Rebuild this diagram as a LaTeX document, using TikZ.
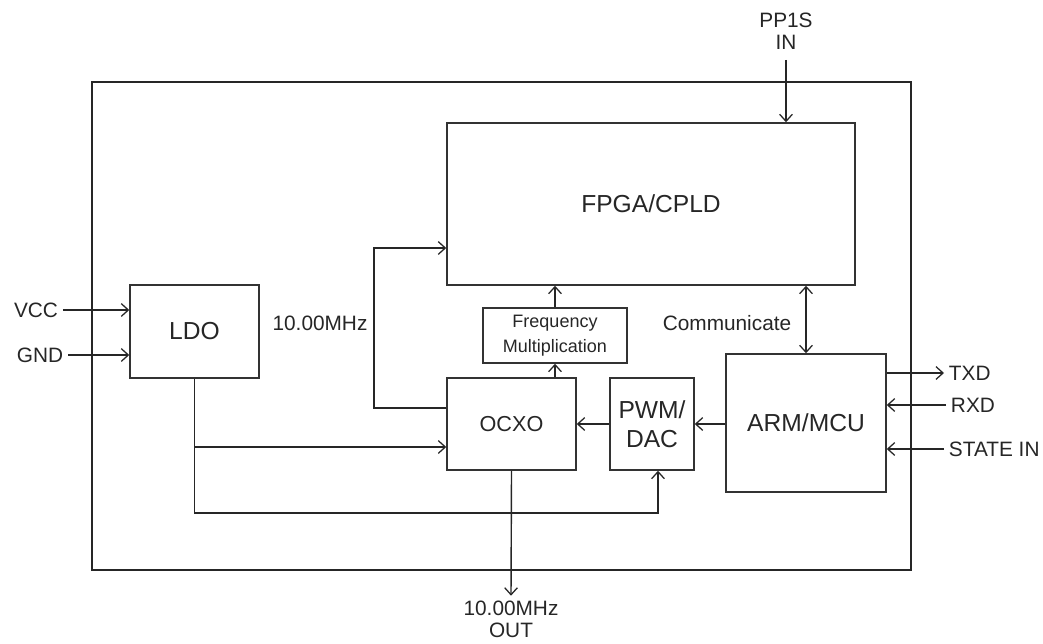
\documentclass[tikz,border=0pt]{standalone}
\usepackage{fontspec}
\setmainfont{Liberation Sans}
\usetikzlibrary{arrows.meta}

\tikzset{
  >={Straight Barb[length=5pt,width=9pt,line width=0.9pt]},
  blk/.style={draw=black!80, line width=1pt, align=center, text=black!85,
    inner sep=0pt, font=\fontsize{17.5}{20.5}\selectfont},
  lbl/.style={align=center, text=black!85, font=\fontsize{14.8}{15.6}\selectfont},
  wire/.style={draw=black!85, line width=1pt}
}

\begin{document}
\begin{tikzpicture}[x=0.025cm,y=-0.025cm]
\useasboundingbox (0,0) rectangle (1043,643);

% outer frame
\draw[black!85, line width=1pt] (92,82) rectangle (911,570);

% blocks
\node[blk, minimum width=10.2cm, minimum height=4.05cm] (fpga) at (651,204) {FPGA/CPLD};
\node[blk, minimum width=3.225cm, minimum height=2.325cm] (ldo) at (194.5,331.5) {LDO};
\node[blk, minimum width=3.6cm, minimum height=1.375cm,
  font=\fontsize{12.8}{17.7}\selectfont] (freq) at (555,335.5) {Frequency\\Multiplication};
\node[blk, minimum width=3.225cm, minimum height=2.3cm,
  font=\fontsize{15.4}{18}\selectfont] (ocxo) at (511.5,424) {OCXO};
\node[blk, minimum width=2.1cm, minimum height=2.3cm] (pwm) at (652,424) {PWM/\\DAC};
\node[blk, minimum width=4cm, minimum height=3.45cm] (arm) at (806,423) {ARM/MCU};

% labels
\node[lbl] (pps) at (786,31) {PP1S\\IN};
\node[lbl] (vcc) at (36,310) {VCC};
\node[lbl] (gnd) at (40,355) {GND};
\node[lbl] (mhz) at (320,323) {10.00MHz};
\node[lbl] (comm) at (727,323) {Communicate};
\node[lbl, anchor=west] (txd) at (944,373) {TXD};
\node[lbl, anchor=west] (rxd) at (946,405) {RXD};
\node[lbl, anchor=west] (state) at (944,449) {STATE IN};
\node[lbl] (out) at (511,619) {10.00MHz\\OUT};

\coordinate (ppsin) at (786,60);
\coordinate (lp) at (374,408);
\coordinate (lp2) at (374,248);
\coordinate (pw) at (195,447);
\coordinate (bus) at (658,513);

% connectors
\draw[wire,->] (ppsin) -- (ppsin |- fpga.north);
\draw[wire,->] (vcc.east) -- (vcc.east -| ldo.west);
\draw[wire,->] (gnd.east) -- (gnd.east -| ldo.west);
\draw[wire,->] (lp -| ocxo.west) -- (lp) |- (lp2 -| fpga.west);
\draw[wire,->] (ldo.south) |- (pw -| ocxo.west);
\draw[wire,->] (ldo.south) |- (bus) -- (bus |- pwm.south);
\draw[wire,->] (freq.south |- ocxo.north) -- (freq.south);
\draw[wire,->] (freq.north) -- (freq.north |- fpga.south);
\draw[wire,->] (pwm.west) -- (ocxo.east);
\draw[wire,->] (arm.west |- pwm.east) -- (pwm.east);
\draw[wire,<->] (arm.north) -- (arm.north |- fpga.south);
\draw[wire,->] (ocxo.south) -- (out.north);
\draw[wire,->] (arm.east |- txd.west) -- (txd.west);
\draw[wire,->] (rxd.west) -- (rxd.west -| arm.east);
\draw[wire,->] (state.west) -- (state.west -| arm.east);

\end{tikzpicture}
\end{document}
